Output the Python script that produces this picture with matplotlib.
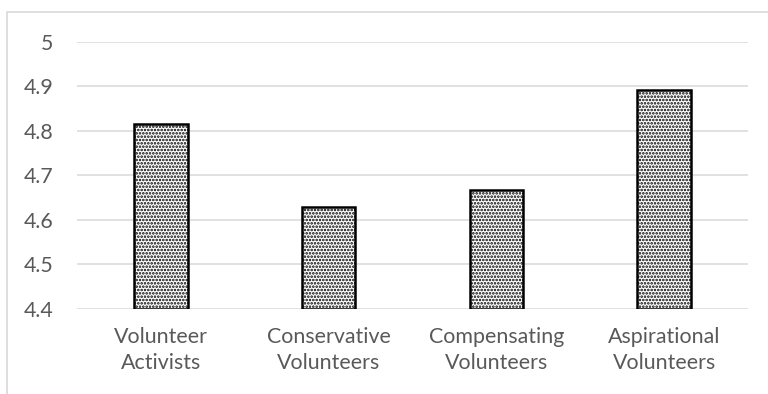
import matplotlib.pyplot as plt
from matplotlib.patches import Rectangle

categories = ['Volunteer\nActivists', 'Conservative\nVolunteers',
              'Compensating\nVolunteers', 'Aspirational\nVolunteers']
values = [4.815, 4.628, 4.666, 4.892]
yticks = [4.4, 4.5, 4.6, 4.7, 4.8, 4.9, 5]
ytick_labels = ['4.4', '4.5', '4.6', '4.7', '4.8', '4.9', '5']

plt.rcParams['font.family'] = ['Lato', 'DejaVu Sans']
plt.rcParams['hatch.linewidth'] = 1.25
plt.rcParams['hatch.color'] = 'black'

fig = plt.figure(figsize=(7.68, 3.94), dpi=100)
ax = fig.add_axes([77 / 768, 1 - 309 / 394, (748 - 77) / 768, (309 - 41.7) / 394])

# outer chart border (right and bottom are cut off in the original)
fig.patches.append(Rectangle((7 / 768, -0.1), 1.2, 1 - 12 / 394 + 0.1,
                             transform=fig.transFigure, fill=False,
                             edgecolor='#d9d9d9', linewidth=1.2))

x = range(len(categories))
ax.bar(x, [v - 4.4 for v in values], bottom=4.4, width=0.32,
       facecolor='white', edgecolor='black', linewidth=1.8,
       hatch='.....', zorder=3)

ax.set_xlim(-0.5, len(categories) - 0.5)
ax.set_ylim(4.4, 5)
ax.set_yticks(yticks)
ax.set_yticklabels(ytick_labels)
ax.set_xticks(list(x))
ax.set_xticklabels(categories, linespacing=1.4)

ax.grid(axis='y', color='#d9d9d9', linewidth=1.1, zorder=0)
for s in ax.spines.values():
    s.set_visible(False)
ax.tick_params(axis='both', length=0, labelsize=15.4, colors='#595959')
ax.tick_params(axis='y', pad=17)
ax.tick_params(axis='x', pad=13)

fig.savefig('out.png', dpi=100)
